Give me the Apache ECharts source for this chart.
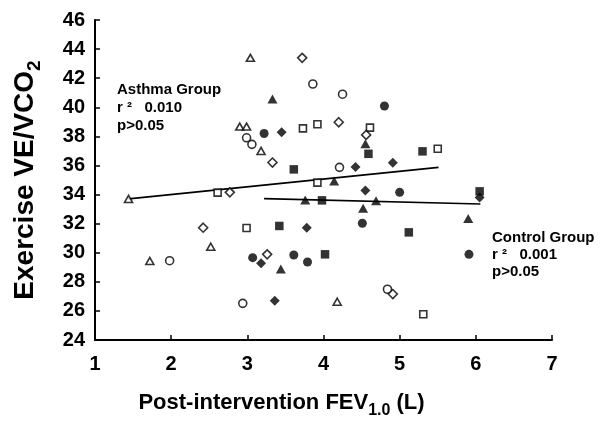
<!DOCTYPE html>
<html>
<head>
<meta charset="utf-8">
<script src="https://cdn.jsdelivr.net/npm/echarts@6/dist/echarts.min.js"></script>
<style>
  html, body { margin: 0; padding: 0; background: #fff; }
  #chart { width: 601px; height: 433px; }
</style>
</head>
<body>
<div id="chart"></div>
<script>
// ---- Data ----
// Asthma group (open markers)
const asthmaTriangle = [[3.04,43.4],[2.90,38.67],[2.99,38.67],[3.18,37.0],[1.44,33.7],[2.52,30.41],[1.72,29.43],[4.18,26.63]];
const asthmaCircle   = [[3.86,41.6],[4.25,40.9],[2.99,37.9],[3.06,37.45],[4.21,35.87],[1.98,29.45],[2.94,26.52],[4.84,27.49]];
const asthmaSquare   = [[3.73,38.55],[3.92,38.83],[4.61,38.6],[5.50,37.15],[2.61,34.13],[3.92,34.82],[2.99,31.7],[5.31,25.77]];
const asthmaDiamond  = [[3.72,43.4],[4.20,38.97],[4.56,38.1],[3.33,36.2],[2.77,34.15],[2.42,31.72],[3.26,29.89],[4.91,27.16]];
// Control group (filled markers)
const controlTriangle = [[3.33,40.57],[4.55,37.5],[4.14,34.93],[3.76,33.63],[4.69,33.58],[4.52,33.05],[5.90,32.35],[3.44,28.88]];
const controlCircle   = [[4.80,40.09],[3.22,38.2],[5.00,34.15],[4.51,32.03],[3.07,29.66],[3.61,29.84],[3.79,29.36],[5.91,29.89]];
const controlSquare   = [[3.61,35.73],[4.59,36.8],[5.30,36.97],[6.05,34.22],[3.98,33.6],[3.42,31.84],[5.12,31.4],[4.02,29.89]];
const controlDiamond  = [[3.45,38.28],[4.42,35.9],[4.91,36.19],[4.55,34.27],[6.05,33.8],[3.78,31.72],[3.18,29.27],[3.36,26.7]];
// Regression lines (end points)
const asthmaFit  = [[1.44,33.7],[5.51,35.87]];
const controlFit = [[3.22,33.72],[6.06,33.35]];
// Axes
const xTicks = [1,2,3,4,5,6,7];
const yTicks = [24,26,28,30,32,34,36,38,40,42,44,46];
// Annotations
const asthmaText  = ['Asthma Group', 'r \u00B2   0.010', 'p>0.05'];
const controlText = ['Control Group', 'r \u00B2   0.001', 'p>0.05'];

const FONT = '"Liberation Sans", Arial, Helvetica, sans-serif';

function openSeries(data, symbol, size) {
  return {
    type: 'scatter', data: data, symbol: symbol, symbolSize: size, z: 3,
    itemStyle: { color: '#fff', borderColor: '#000', borderWidth: 1.6 }
  };
}
function filledSeries(data, symbol, size) {
  return {
    type: 'scatter', data: data, symbol: symbol, symbolSize: size, z: 3,
    itemStyle: { color: '#000', borderColor: '#000', borderWidth: 0 }
  };
}
function fitSeries(data) {
  return {
    type: 'line', data: data, showSymbol: false, symbol: 'none', z: 2,
    lineStyle: { color: '#000', width: 1.6 }, silent: true
  };
}

function textLines(lines, x, y0, dy) {
  return lines.map((t, i) => ({
    type: 'text', x: x, y: y0 + i * dy, z: 10,
    style: { text: t, fill: '#000', font: 'bold 15px ' + FONT, verticalAlign: 'middle', align: 'left' }
  }));
}

const chart = echarts.init(document.getElementById('chart'), null, { renderer: 'canvas' });
chart.setOption({
  animation: false,
  backgroundColor: '#fff',
  grid: { left: 95, right: 49, top: 20, bottom: 93, containLabel: false },
  xAxis: {
    type: 'value', min: xTicks[0], max: xTicks[xTicks.length - 1], interval: 1,
    splitLine: { show: false },
    axisLine: { show: true, onZero: false, lineStyle: { color: '#000', width: 2 } },
    axisTick: { show: true, inside: true, length: 5, lineStyle: { color: '#000', width: 1.5 } },
    axisLabel: { color: '#000', fontFamily: FONT, fontWeight: 'bold', fontSize: 20, margin: 14 },
    name: 'Post-intervention FEV{sub|1.0} (L)',
    nameLocation: 'middle', nameGap: 47,
    nameTextStyle: {
      color: '#000', fontFamily: FONT, fontWeight: 'bold', fontSize: 22, padding: [0, 84, 0, 0],
      rich: { sub: { fontFamily: FONT, fontWeight: 'bold', fontSize: 16, color: '#000', padding: [16, 0, 0, 0] } }
    }
  },
  yAxis: {
    type: 'value', min: yTicks[0], max: yTicks[yTicks.length - 1], interval: 2,
    splitLine: { show: false },
    axisLine: { show: true, onZero: false, lineStyle: { color: '#000', width: 2 } },
    axisTick: { show: true, inside: true, length: 5, lineStyle: { color: '#000', width: 1.5 } },
    axisLabel: { color: '#000', fontFamily: FONT, fontWeight: 'bold', fontSize: 20, margin: 10 },
    name: 'Exercise VE/VCO{sub|2}',
    nameLocation: 'middle', nameRotate: 90, nameGap: 51,
    nameTextStyle: {
      color: '#000', fontFamily: FONT, fontWeight: 'bold', fontSize: 28,
      rich: { sub: { fontFamily: FONT, fontWeight: 'bold', fontSize: 19, color: '#000', padding: [18, 0, 0, 0] } }
    }
  },
  graphic: [].concat(
    textLines(asthmaText, 117, 90, 18),
    textLines(controlText, 492, 238, 17)
  ),
  series: [
    fitSeries(asthmaFit),
    fitSeries(controlFit),
    openSeries(asthmaTriangle, 'triangle', [8, 7]),
    openSeries(asthmaCircle, 'circle', 8),
    openSeries(asthmaSquare, 'rect', 7),
    openSeries(asthmaDiamond, 'diamond', [9, 9]),
    filledSeries(controlTriangle, 'triangle', [10, 9]),
    filledSeries(controlCircle, 'circle', 9),
    filledSeries(controlSquare, 'rect', 8.5),
    filledSeries(controlDiamond, 'diamond', [10, 10])
  ]
});
</script>
</body>
</html>
